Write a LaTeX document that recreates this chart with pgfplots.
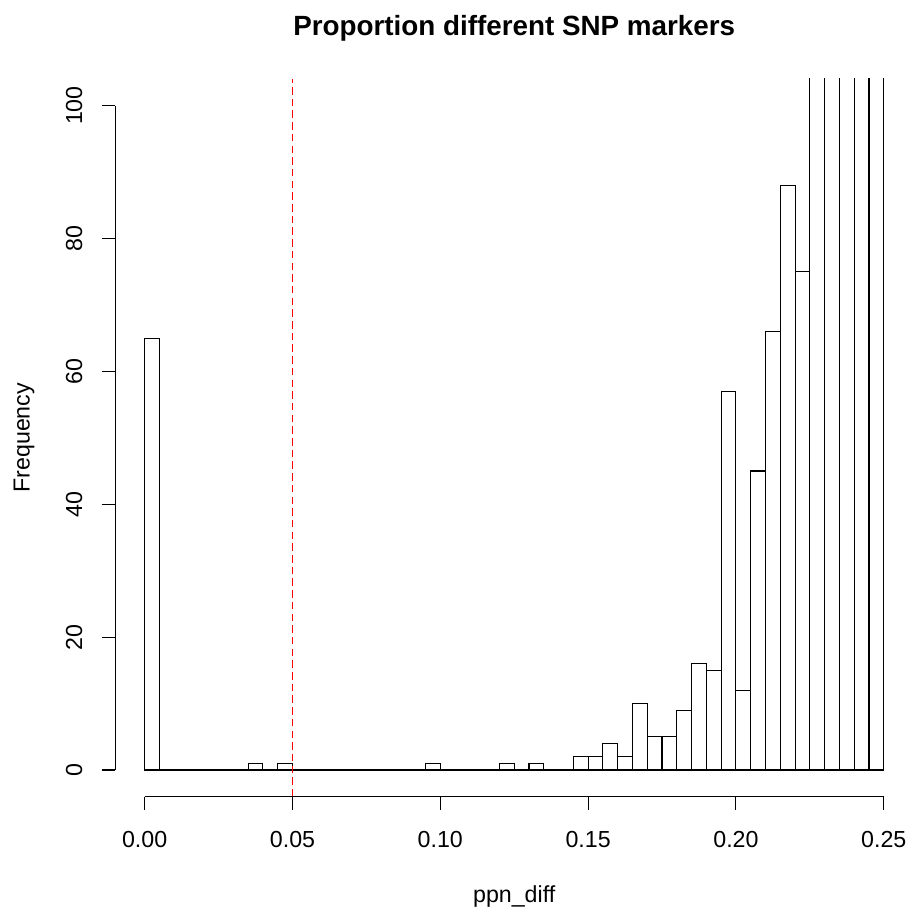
\documentclass[border=0pt]{standalone}
\usepackage{pgfplots}
\pgfplotsset{compat=1.18}
\usepackage{fontspec}
\setmainfont{Liberation Sans}
\definecolor{rred}{RGB}{255,0,0}
\pgfplotstableread{
x y
0.000 65
0.005 0
0.010 0
0.015 0
0.020 0
0.025 0
0.030 0
0.035 1
0.040 0
0.045 1
0.050 0
0.055 0
0.060 0
0.065 0
0.070 0
0.075 0
0.080 0
0.085 0
0.090 0
0.095 1
0.100 0
0.105 0
0.110 0
0.115 0
0.120 1
0.125 0
0.130 1
0.135 0
0.140 0
0.145 2
0.150 2
0.155 4
0.160 2
0.165 10
0.170 5
0.175 5
0.180 9
0.185 16
0.190 15
0.195 57
0.200 12
0.205 45
0.210 66
0.215 88
0.220 75
0.225 120
0.230 150
0.235 180
0.240 200
0.245 160
0.250 0
}\histdata
\begin{document}
\begin{tikzpicture}[x=1bp,y=1bp]
\useasboundingbox (0,0) rectangle (908,908);
\begin{axis}[
  at={(115.1bp,111.4bp)}, anchor=south west,
  scale only axis, width=798.2bp, height=717.6bp,
  xmin=-0.01, xmax=0.26, ymin=-4, ymax=104,
  axis x line*=bottom, axis y line*=left,
  axis line style={draw=none},
  xtick={0,0.05,0.1,0.15,0.2,0.25},
  xticklabels={0.00,0.05,0.10,0.15,0.20,0.25},
  ytick={0,20,40,60,80,100},
  yticklabels={0,20,40,60,80,100},
  minor tick num=0,
  tick align=outside, major tick length=13.5bp,
  tick style={black, line width=1.1bp},
  ticklabel style={font=\fontsize{23.2bp}{27.8bp}\selectfont, inner sep=0pt, outer sep=0pt},
  xticklabel style={anchor=base, yshift=-37.6bp},
  yticklabel style={xshift=-19.6bp, rotate=90, anchor=base},
  clip mode=individual,
  every axis title shift=0pt,
  title={Proportion different SNP markers},
  title style={at={(axis description cs:0.5,1.05992)}, anchor=base, inner sep=0pt,
    font=\fontsize{27.8bp}{33bp}\selectfont\bfseries},
  xlabel={ppn\_diff},
  xlabel style={at={(axis description cs:0.5,-0.14688)}, anchor=base, inner sep=0pt,
    font=\fontsize{23.2bp}{27.8bp}\selectfont},
  ylabel={Frequency},
  ylabel style={at={(axis description cs:-0.10724,0.5)}, anchor=base, inner sep=0pt,
    font=\fontsize{23.2bp}{27.8bp}\selectfont},
]
\addplot[ybar interval, draw=black, fill=white, line width=1.1bp] table[x=x,y=y] {\histdata};
\addplot[rred, line width=1.1bp, dash pattern=on 7.5bp off 4.2bp] coordinates {(0.05,-4) (0.05,104)};
\draw[line width=1.1bp] (axis cs:0,-4) -- (axis cs:0.25,-4);
\draw[line width=1.1bp] (axis cs:-0.01,0) -- (axis cs:-0.01,100);
\end{axis}
\end{tikzpicture}
\end{document}
